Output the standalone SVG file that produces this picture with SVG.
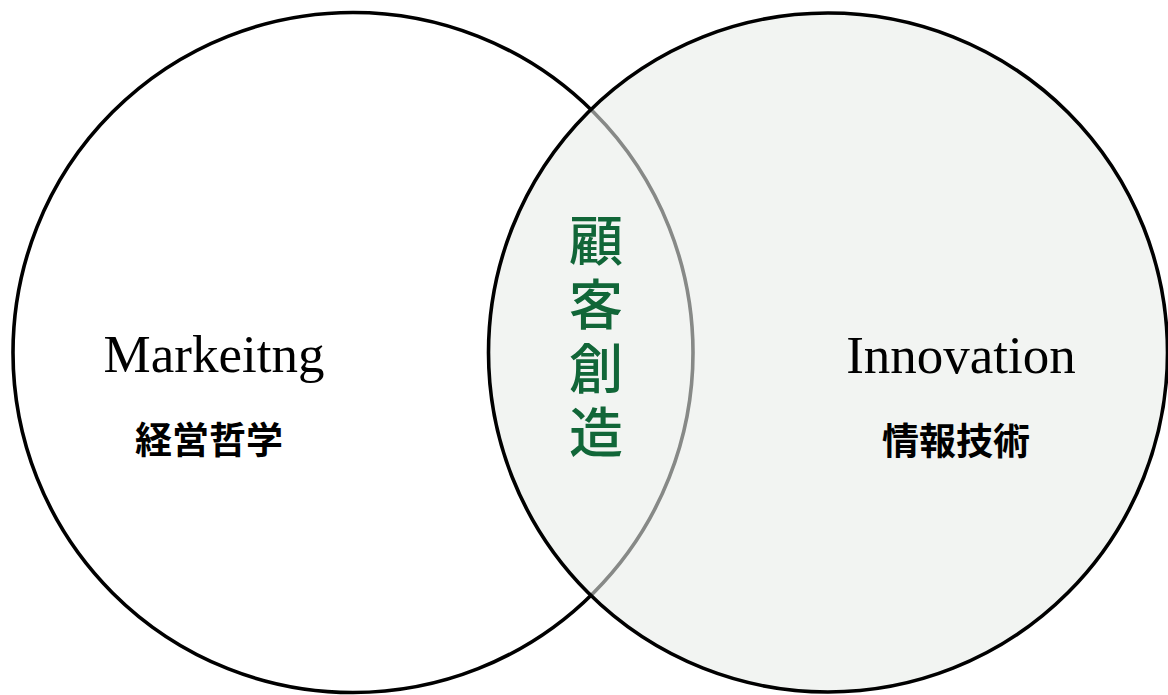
<svg xmlns="http://www.w3.org/2000/svg" width="1168" height="695" viewBox="0 0 1168 695">
  <style>
    .circle { stroke: #000; stroke-width: 3.6; }
    .en { font-family: "Liberation Serif", "DejaVu Serif", serif; font-size: 53px; fill: #000; text-anchor: middle; }
    .jp { font-family: "Noto Sans CJK JP", "Noto Sans CJK SC", sans-serif; font-size: 37px; font-weight: bold; fill: #000; text-anchor: middle; }
    .core { font-family: "Noto Sans CJK JP", "Noto Sans CJK SC", sans-serif; font-size: 54px; font-weight: 500; fill: #116638; writing-mode: vertical-rl; letter-spacing: 10px; }
  </style>
  <rect width="1168" height="695" fill="#ffffff"/>
  <g id="marketing">
    <circle class="circle" cx="353" cy="352.5" r="340" fill="#ffffff"/>
    <text class="en" x="214" y="372">Markeitng</text>
    <text class="jp" x="209" y="454">経営哲学</text>
  </g>
  <g id="innovation">
    <circle class="circle" cx="828" cy="352.5" r="339.5" fill="#e9ece9" fill-opacity="0.58"/>
    <text class="en" x="961" y="373">Innovation</text>
    <text class="jp" x="956" y="455">情報技術</text>
  </g>
  <g id="customer-creation">
    <text class="core" x="596" y="213">顧客創造</text>
  </g>
  <g id="connectors"></g>
</svg>
